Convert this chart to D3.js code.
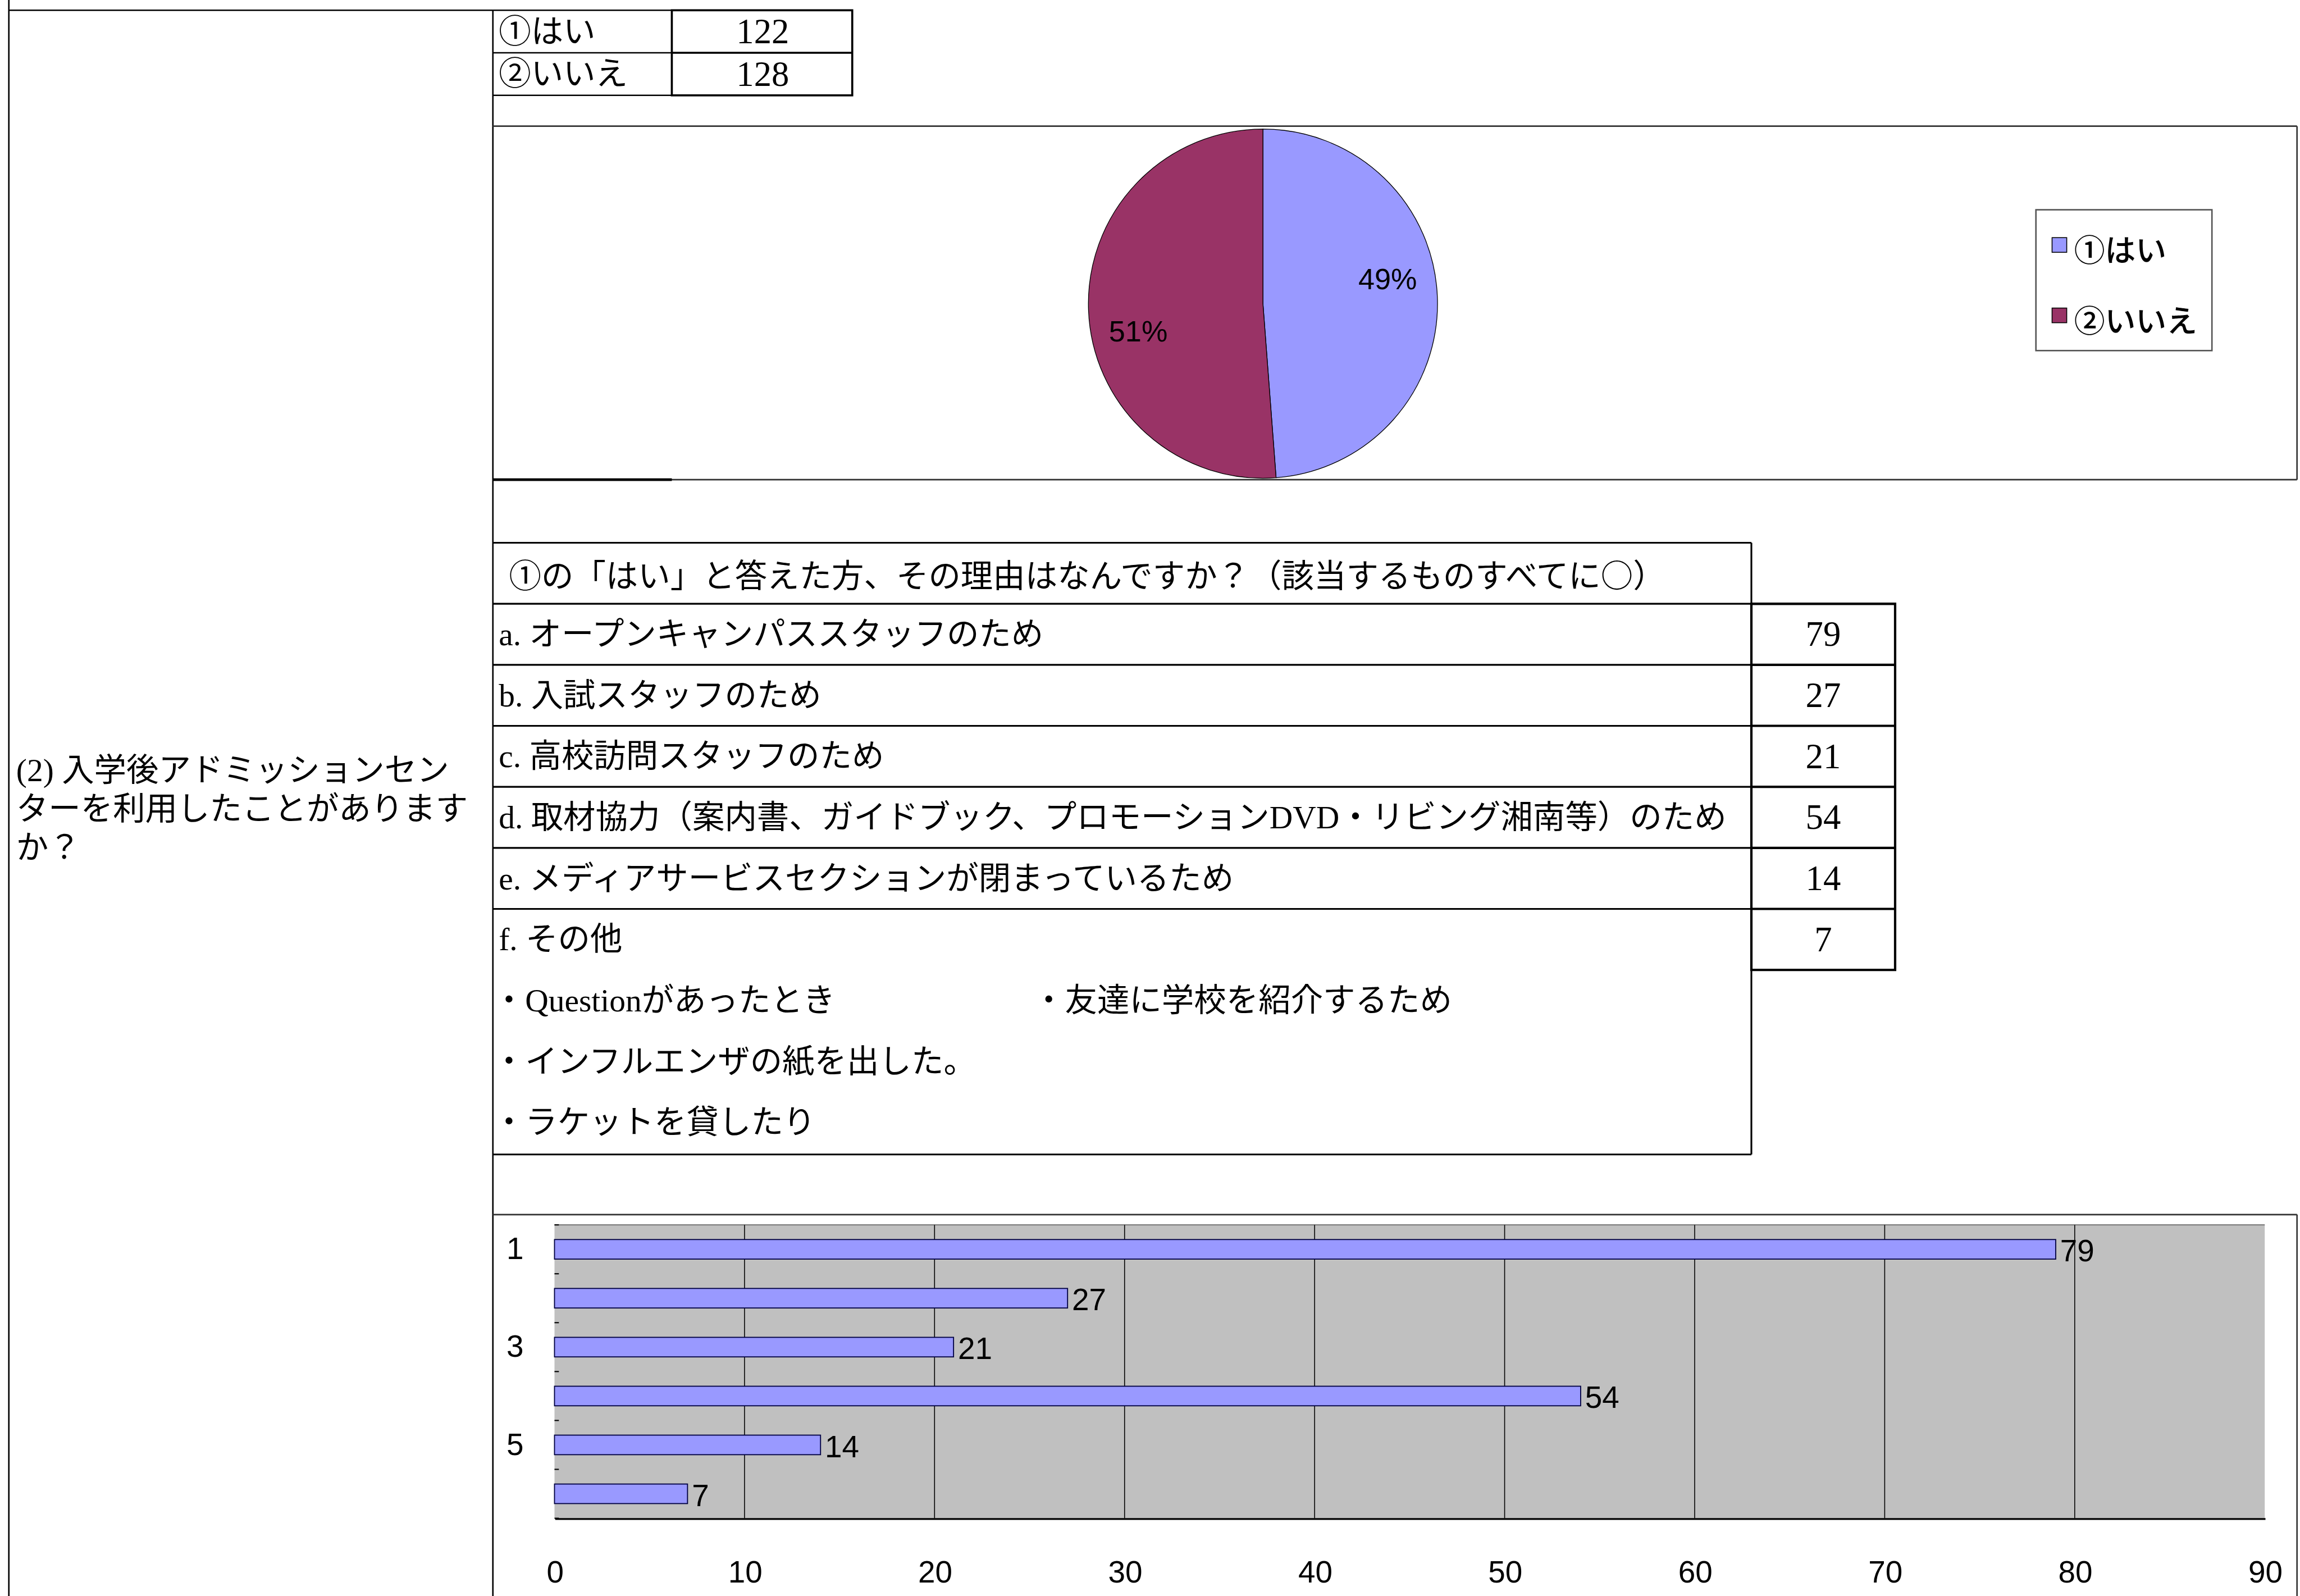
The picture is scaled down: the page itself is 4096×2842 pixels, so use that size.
<!DOCTYPE html>
<html><head><meta charset="utf-8">
<script src="https://cdn.jsdelivr.net/npm/d3@7"></script>
<style>html,body{margin:0;padding:0;background:#fff;overflow:hidden}</style>
</head><body>
<svg id="chart" width="4096" height="2842" viewBox="0 0 1568 1088"></svg>
<script>
// ---------------- data ----------------
const questionLines = ["(2) 入学後アドミッションセン", "ターを利用したことがあります", "か？"];
const answerLabels = ["①はい", "②いいえ"];
const answerCounts = [122, 128];
const reasonHeader = "①の「はい」と答えた方、その理由はなんですか？（該当するものすべてに○）";
const reasonLabels = [
  "a. オープンキャンパススタッフのため",
  "b. 入試スタッフのため",
  "c. 高校訪問スタッフのため",
  "d. 取材協力（案内書、ガイドブック、プロモーションDVD・リビング湘南等）のため",
  "e. メディアサービスセクションが閉まっているため",
  "f. その他"
];
const reasonCounts = [79, 27, 21, 54, 14, 7];
const otherComments = [
  ["・Questionがあったとき", "・友達に学校を紹介するため"],
  ["・インフルエンザの紙を出した。"],
  ["・ラケットを貸したり"]
];
const barCategories = ["1", "2", "3", "4", "5", "6"];
const xTickValues = [0, 10, 20, 30, 40, 50, 60, 70, 80, 90];
const pieColors = ["#9999FF", "#993366"];

// ---------------- setup ----------------
const svg = d3.select("#chart");
const serif = "'Liberation Serif','Noto Sans CJK JP',serif";
const gothic = "'Noto Sans CJK JP','Liberation Sans',sans-serif";
const sans = "'Liberation Sans','Noto Sans CJK JP',sans-serif";

function line(x1, y1, x2, y2, w = 1, c = "#000") {
  svg.append("line").attr("x1", x1).attr("y1", y1).attr("x2", x2).attr("y2", y2)
    .attr("stroke", c).attr("stroke-width", w);
}
function text(str, x, y, opts = {}) {
  return svg.append("text").attr("x", x).attr("y", y)
    .attr("font-family", opts.family || serif)
    .attr("font-size", opts.size || 22)
    .attr("font-weight", opts.weight || "normal")
    .attr("text-anchor", opts.anchor || "start")
    .attr("dominant-baseline", "central")
    .attr("fill", "#000")
    .text(str);
}

const L = 6, C = 336, R = 1566, MID = 458;

// frame lines
line(L, 0, L, 1088, 1);
line(C, 7, C, 1088, 1);
line(L, 7, MID, 7, 1);

// left question text
questionLines.forEach((s, i) => text(s, 11, 525 + i * 26.5, {size: 22}));

// ---------------- small answer table ----------------
const smallRowH = 29;
answerLabels.forEach((lab, i) => {
  const y0 = 7 + i * smallRowH;
  line(C, y0 + smallRowH, MID, y0 + smallRowH, 1);
  text(lab, 340, y0 + smallRowH / 2, {size: 22});
  text(String(answerCounts[i]), 520, y0 + smallRowH / 2, {size: 24, anchor: "middle"});
});
svg.append("rect").attr("x", MID).attr("y", 7).attr("width", 581 - MID).attr("height", smallRowH * 2)
  .attr("fill", "none").attr("stroke", "#000").attr("stroke-width", 1.4);
line(MID, 7 + smallRowH, 581, 7 + smallRowH, 1.4);

// ---------------- pie chart ----------------
line(C, 86, R, 86, 1, "#333");
line(R, 86, R, 327, 1, "#333");
line(C, 327, R, 327, 1, "#333");
line(C, 327, MID, 327, 1.8);

const pieR = 119;
const pieG = svg.append("g").attr("transform", "translate(861,207)");
const total = d3.sum(answerCounts);
const pie = d3.pie().sort(null).startAngle(0).endAngle(2 * Math.PI);
const arcs = pie(answerCounts);
const arc = d3.arc().innerRadius(0).outerRadius(pieR);
pieG.selectAll("path").data(arcs).join("path")
  .attr("d", arc).attr("fill", (d, i) => pieColors[i])
  .attr("stroke", "#000").attr("stroke-width", 0.5);
const labelRot = -0.17, labelRad = pieR * 0.73;
pieG.selectAll("text").data(arcs).join("text")
  .attr("x", d => Math.sin((d.startAngle + d.endAngle) / 2 + labelRot) * labelRad)
  .attr("y", d => -Math.cos((d.startAngle + d.endAngle) / 2 + labelRot) * labelRad + 1)
  .attr("text-anchor", "middle").attr("dominant-baseline", "central")
  .attr("font-family", sans).attr("font-size", 20).attr("font-weight", 500)
  .text(d => Math.round(d.value / total * 100) + "%");

// legend
svg.append("rect").attr("x", 1388).attr("y", 143).attr("width", 120).attr("height", 96)
  .attr("fill", "#fff").attr("stroke", "#555").attr("stroke-width", 1);
answerLabels.forEach((lab, i) => {
  const cy = 167 + i * 48;
  svg.append("rect").attr("x", 1399).attr("y", cy - 5).attr("width", 10).attr("height", 10)
    .attr("fill", pieColors[i]).attr("stroke", "#000").attr("stroke-width", 0.6);
  text(lab, 1414, cy + 2, {family: gothic, size: 21, weight: 500});
});

// ---------------- reasons table ----------------
const tTop = 370, tRight = 1194, vRight = 1292, rowH = 41.6;
const rowTop = i => tTop + rowH * (i + 1);
const tBottom = 787;
line(C, tTop, tRight, tTop, 1.2);
line(tRight, tTop, tRight, tBottom, 1.2);
line(C, tBottom, tRight, tBottom, 1.2);
text(reasonHeader, 347, tTop + rowH / 2, {family: gothic, size: 22});
reasonLabels.forEach((lab, i) => {
  const y0 = rowTop(i);
  line(C, y0, tRight, y0, 1.2);
  text(lab, 340, y0 + rowH / 2, {size: 22});
  text(String(reasonCounts[i]), (tRight + vRight) / 2, y0 + rowH / 2, {size: 24, anchor: "middle"});
  line(tRight, y0, vRight, y0, 1.6);
});
const vBottom = rowTop(reasonLabels.length);
svg.append("rect").attr("x", tRight).attr("y", rowTop(0)).attr("width", vRight - tRight)
  .attr("height", vBottom - rowTop(0)).attr("fill", "none").attr("stroke", "#000").attr("stroke-width", 1.6);
otherComments.forEach((row, i) => {
  const cy = vBottom + rowH / 2 + i * rowH;
  row.forEach((s, j) => text(s, j === 0 ? 336 : 704, cy, {size: 22}));
});

// ---------------- bar chart ----------------
line(C, 828, R, 828, 1, "#333");
line(R, 828, R, 1088, 1, "#333");

const x = d3.scaleLinear().domain([0, 90]).range([378, 1544]);
const y = d3.scaleBand().domain(barCategories).range([835, 1035]).paddingInner(0.6).paddingOuter(0.3);

svg.append("rect").attr("x", x(0)).attr("y", 835).attr("width", x(90) - x(0)).attr("height", 200)
  .attr("fill", "#C0C0C0");
line(x(0), 835, x(90), 835, 0.8, "#808080");
svg.append("g").selectAll("line").data(xTickValues.slice(1, -1)).join("line")
  .attr("x1", d => x(d)).attr("x2", d => x(d)).attr("y1", 835).attr("y2", 1035)
  .attr("stroke", "#000").attr("stroke-width", 0.6);

// category boundary ticks
const bounds = barCategories.map(c => y(c) + y.bandwidth() / 2 - y.step() / 2).concat([1035]);
svg.append("g").selectAll("line").data(bounds).join("line")
  .attr("x1", x(0)).attr("x2", x(0) + 3).attr("y1", d => d).attr("y2", d => d)
  .attr("stroke", "#000").attr("stroke-width", 0.8);

svg.append("g").selectAll("rect").data(reasonCounts).join("rect")
  .attr("x", x(0)).attr("y", (d, i) => y(barCategories[i]))
  .attr("width", d => x(d) - x(0)).attr("height", y.bandwidth())
  .attr("fill", "#9999FF").attr("stroke", "#000040").attr("stroke-width", 0.7);

svg.append("g").selectAll("text").data(reasonCounts).join("text")
  .attr("x", d => x(d) + 3).attr("y", (d, i) => y(barCategories[i]) + y.bandwidth() / 2 + 1)
  .attr("dominant-baseline", "central").attr("font-family", sans).attr("font-size", 21)
  .attr("font-weight", 500)
  .text(d => d);

// x axis
const xAxis = svg.append("g").attr("transform", "translate(0,1035)")
  .call(d3.axisBottom(x).tickValues(xTickValues).tickSize(0).tickSizeOuter(0).tickPadding(29));
xAxis.select(".domain").attr("stroke", "#000").attr("stroke-width", 1.2);
xAxis.selectAll("text").attr("font-family", sans).attr("font-size", 21).attr("fill", "#000");

// y axis labels (every other category)
const yAxis = svg.append("g").attr("transform", `translate(${x(0)},0)`)
  .call(d3.axisLeft(y).tickSize(0).tickPadding(21)
    .tickFormat((d, i) => i % 2 === 0 ? d : ""));
yAxis.select(".domain").remove();
yAxis.selectAll("text").attr("font-family", sans).attr("font-size", 21).attr("fill", "#000");
</script>
</body></html>
